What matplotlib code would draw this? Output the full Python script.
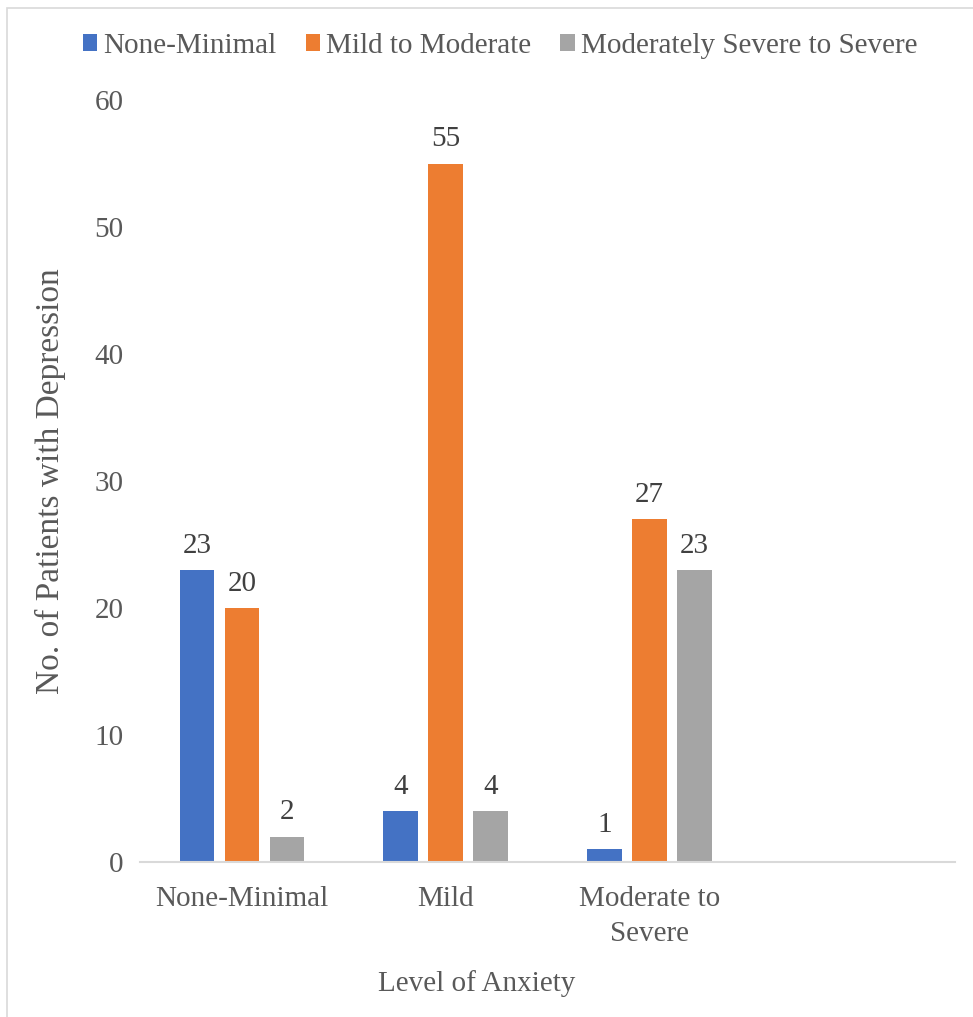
import numpy as np
import matplotlib.pyplot as plt
from matplotlib.patches import Rectangle

# anxiety levels on x; last slot is left empty
categories = ["None-Minimal", "Mild", "Moderate to\nSevere", ""]
series_names = ["None-Minimal", "Mild to Moderate", "Moderately Severe to Severe"]
none_minimal = [23, 4, 1]
mild_moderate = [20, 55, 27]
mod_severe = [2, 4, 23]
colors = ["#4472c4", "#ed7d31", "#a5a5a5"]

plt.rcParams["font.family"] = ["Liberation Serif", "DejaVu Serif"]
text_grey = "#595959"
fs = 21

fig = plt.figure(figsize=(9.73, 10.17), dpi=100)
ax = fig.add_axes([140/973, 1-862/1017, 815/973, 762/1017])

# outer chart frame, runs off the right and bottom edges
fig.patches.append(Rectangle((7/973, -0.1), 1.2, 1-8/1017+0.1, transform=fig.transFigure,
                             fill=False, edgecolor="#d9d9d9", lw=1.2))

x = np.arange(len(none_minimal))
offsets = [-0.221, 0.0, 0.221]
width = 0.17
for vals, off, col, name in zip([none_minimal, mild_moderate, mod_severe], offsets, colors, series_names):
    bars = ax.bar(x + off, vals, width, color=col, label=name, zorder=2)
    ax.bar_label(bars, padding=8, fontsize=fs, color="#404040")

ax.set_xlim(-0.5, 3.5)
ax.set_ylim(0, 60)
ax.set_yticks(range(0, 61, 10))
ax.set_xticks(range(len(categories)))
ax.set_xticklabels(categories, fontsize=fs, color=text_grey, linespacing=1.45)
ax.tick_params(axis="y", labelsize=fs, colors=text_grey, length=0, pad=12)
ax.tick_params(axis="x", length=0, pad=17)

for s in ["top", "right", "left"]:
    ax.spines[s].set_visible(False)
ax.spines["bottom"].set_color("#d9d9d9")
ax.spines["bottom"].set_linewidth(1.5)

ax.set_ylabel("No. of Patients with Depression", fontsize=24, color=text_grey, labelpad=20)
ax.set_xlabel("Level of Anxiety", fontsize=fs, color=text_grey, labelpad=17)
ax.xaxis.label.set_x((477 - 140) / 815)

ax.legend(loc="center", bbox_to_anchor=(500/973, 1-46/1017), bbox_transform=fig.transFigure,
          ncol=3, frameon=False, fontsize=fs, labelcolor=text_grey,
          handlelength=0.5, handleheight=0.5, handletextpad=0.2, columnspacing=1.0)

fig.savefig("out.png", dpi=100)
